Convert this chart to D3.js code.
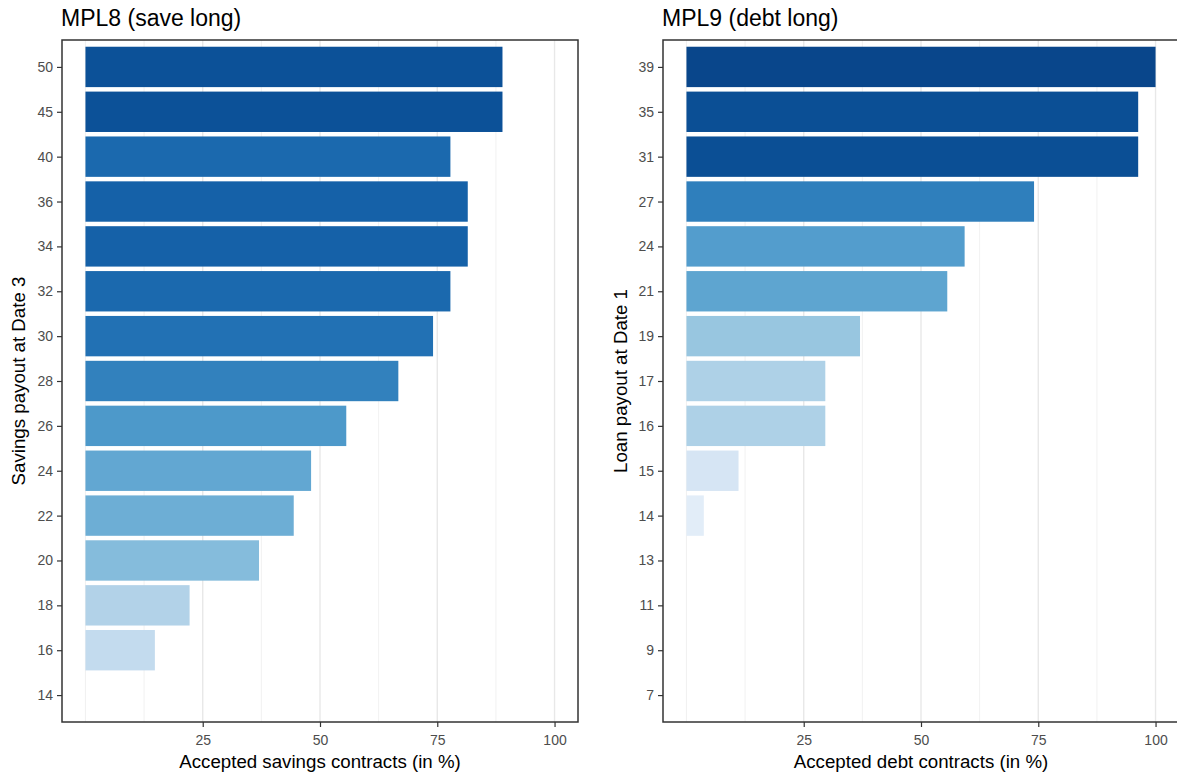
<!DOCTYPE html>
<html>
<head>
<meta charset="utf-8">
<script src="https://cdn.jsdelivr.net/npm/d3@7"></script>
<style>
  body { margin: 0; background: #fff; }
  svg { display: block; font-family: "Liberation Sans", Arial, Helvetica, sans-serif; }
</style>
</head>
<body>
<svg id="chart" width="1177" height="776"></svg>
<script>
// ---- data ----
const saveCategories = ["14","16","18","20","22","24","26","28","30","32","34","36","40","45","50"];
const saveValues     = [0, 14.8, 22.2, 37.0, 44.4, 48.1, 55.6, 66.7, 74.1, 77.8, 81.5, 81.5, 77.8, 88.9, 88.9];
const debtCategories = ["7","9","11","13","14","15","16","17","19","21","24","27","31","35","39"];
const debtValues     = [0, 0, 0, 0, 3.7, 11.1, 29.6, 29.6, 37.0, 55.6, 59.3, 74.1, 96.3, 96.3, 100];
const xTicks = [25, 50, 75, 100];
const xMinor = [0, 12.5, 37.5, 62.5, 87.5];

const panels = [
  { title: "MPL8 (save long)", xTitle: "Accepted savings contracts (in %)", yTitle: "Savings payout at Date 3",
    cats: saveCategories, vals: saveValues, left: 62, yTitleX: 25, t0: 0.125, tSlope: 0.00843 },
  { title: "MPL9 (debt long)", xTitle: "Accepted debt contracts (in %)", yTitle: "Loan payout at Date 1",
    cats: debtCategories, vals: debtValues, left: 663, yTitleX: 627, t0: 0.075, tSlope: 0.0084 }
];

const svg = d3.select("#chart");
const plotTop = 40, plotBottom = 722, pw = 516;
const tickFont = "14px";

panels.forEach(p => {
  const x = d3.scaleLinear().domain([-5, 105]).range([p.left, p.left + pw]);
  const y = d3.scalePoint().domain(p.cats.slice().reverse()).range([plotTop, plotBottom]).padding(0.6);
  const bh = y.step() * 0.9;
  const color = v => d3.interpolateBlues(p.t0 + v * p.tSlope);
  const g = svg.append("g");

  // grid
  g.selectAll(".minor").data(xMinor).join("line")
    .attr("x1", d => x(d)).attr("x2", d => x(d)).attr("y1", plotTop).attr("y2", plotBottom)
    .attr("stroke", "#ebebeb").attr("stroke-width", 0.7);
  g.selectAll(".major").data(xTicks).join("line")
    .attr("x1", d => x(d)).attr("x2", d => x(d)).attr("y1", plotTop).attr("y2", plotBottom)
    .attr("stroke", "#e8e8e8").attr("stroke-width", 1.4);

  // bars
  const data = p.cats.map((c, i) => ({ c, v: p.vals[i] }));
  g.selectAll(".bar").data(data).join("rect")
    .attr("x", x(0)).attr("width", d => x(d.v) - x(0))
    .attr("y", d => y(d.c) - bh / 2).attr("height", bh)
    .attr("fill", d => color(d.v));

  // border
  g.append("rect").attr("x", p.left).attr("y", plotTop).attr("width", pw).attr("height", plotBottom - plotTop)
    .attr("fill", "none").attr("stroke", "#333333").attr("stroke-width", 1.5);

  // x axis
  const xa = g.append("g").attr("transform", `translate(0,${plotBottom})`)
    .call(d3.axisBottom(x).tickValues(xTicks).tickSize(5).tickPadding(8));
  xa.select(".domain").remove();
  xa.selectAll(".tick line").attr("stroke", "#333333").attr("stroke-width", 1.2);
  xa.selectAll(".tick text").attr("fill", "#4d4d4d").style("font-size", tickFont).style("font-family", "Liberation Sans, Arial, sans-serif");

  // y axis
  const ya = g.append("g").attr("transform", `translate(${p.left},0)`)
    .call(d3.axisLeft(y).tickSize(5).tickPadding(4));
  ya.select(".domain").remove();
  ya.selectAll(".tick line").attr("stroke", "#333333").attr("stroke-width", 1.2);
  ya.selectAll(".tick text").attr("fill", "#4d4d4d").style("font-size", tickFont).style("font-family", "Liberation Sans, Arial, sans-serif");

  // titles
  g.append("text").attr("x", p.left - 1).attr("y", 26).text(p.title)
    .style("font-size", "23px").attr("fill", "#000");
  g.append("text").attr("x", p.left + pw / 2).attr("y", 768).attr("text-anchor", "middle")
    .text(p.xTitle).style("font-size", "18.7px").attr("fill", "#000");
  g.append("text").attr("transform", `translate(${p.yTitleX},${(plotTop + plotBottom) / 2}) rotate(-90)`)
    .attr("text-anchor", "middle").text(p.yTitle).style("font-size", "18.7px").attr("fill", "#000");
});
</script>
</body>
</html>
